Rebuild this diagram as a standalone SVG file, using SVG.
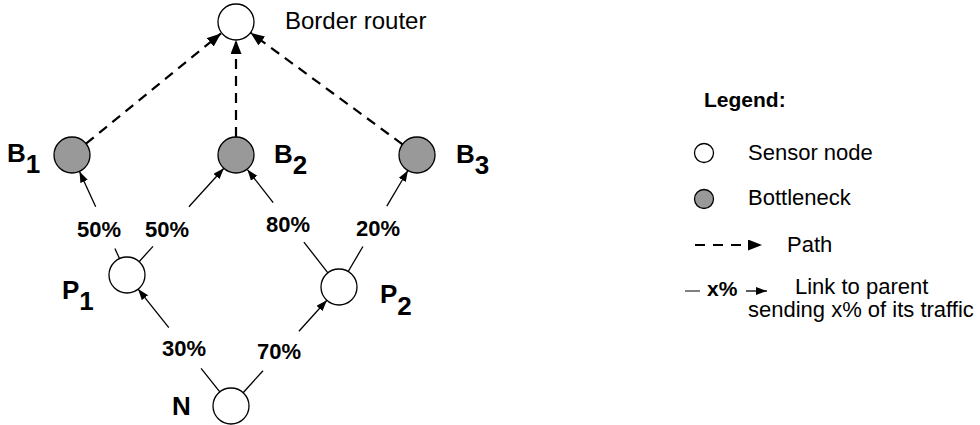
<svg xmlns="http://www.w3.org/2000/svg" width="980" height="425" viewBox="0 0 980 425">
<defs>
<style>
text{font-family:"Liberation Sans",Arial,Helvetica,sans-serif;fill:#000}
.node{stroke:#000;stroke-width:1.3}
.sensor{fill:#fff}
.bott{fill:#999}
.path{stroke:#000;stroke-width:2.2;stroke-dasharray:10 7;fill:none;marker-end:url(#dashHead)}
.link{stroke:#000;stroke-width:1.3;fill:none}
.linkA{stroke:#000;stroke-width:1.3;fill:none;marker-end:url(#solidHead)}
.pct{font-size:22px;font-weight:bold}
.lbl{font-size:26px;font-weight:bold}
.leg{font-size:22px}
</style>
<marker id="dashHead" markerUnits="userSpaceOnUse" markerWidth="15" markerHeight="12" refX="14" refY="5.5" orient="auto" viewBox="0 0 15 12">
<path d="M0,0 L14,5.5 L0,11 z" fill="#000"/>
</marker>
<marker id="solidHead" markerUnits="userSpaceOnUse" markerWidth="12" markerHeight="9" refX="11" refY="4" orient="auto" viewBox="0 0 12 9">
<path d="M0,0 L11,4 L0,8 z" fill="#000"/>
</marker>
</defs>
<rect width="980" height="425" fill="#fff"/>
<g id="connectors">
<line class="path" x1="86" y1="143.6" x2="221" y2="33.4"/>
<line class="path" x1="236" y1="137" x2="236" y2="40"/>
<line class="path" x1="402.5" y1="144.3" x2="250.5" y2="32.7"/>
<line class="link" x1="119.5" y1="258.6" x2="114.9" y2="248.6"/>
<line class="linkA" x1="95.7" y1="206.8" x2="79.5" y2="171.4"/>
<line class="link" x1="139.1" y1="261.7" x2="153" y2="246.4"/>
<line class="linkA" x1="188.9" y1="206.8" x2="223.9" y2="168.3"/>
<line class="link" x1="327.9" y1="272.8" x2="303.9" y2="242.1"/>
<line class="linkA" x1="273.2" y1="202.7" x2="247.4" y2="169.6"/>
<line class="link" x1="348.2" y1="271.5" x2="362.9" y2="246.5"/>
<line class="linkA" x1="386.8" y1="206.1" x2="407.9" y2="170.5"/>
<line class="link" x1="219.8" y1="391.9" x2="201.1" y2="368.4"/>
<line class="linkA" x1="168.8" y1="327.7" x2="138.1" y2="289.1"/>
<line class="link" x1="243.1" y1="392.7" x2="263" y2="370.7"/>
<line class="linkA" x1="298.9" y1="331.2" x2="326.9" y2="300.3"/>
<text class="pct" x="77" y="237">50%</text>
<text class="pct" x="145" y="237">50%</text>
<text class="pct" x="266" y="232">80%</text>
<text class="pct" x="356" y="236">20%</text>
<text class="pct" x="162" y="356">30%</text>
<text class="pct" x="257" y="359">70%</text>
</g>
<g id="border-router">
<circle class="node sensor" cx="236" cy="22" r="18"/>
<text x="285" y="29" style="font-size:24px">Border router</text>
</g>
<g id="B1">
<circle class="node bott" cx="72" cy="155" r="18"/>
<text class="lbl" x="7" y="162">B<tspan dy="11">1</tspan></text>
</g>
<g id="B2">
<circle class="node bott" cx="236" cy="155" r="18"/>
<text class="lbl" x="274" y="163">B<tspan dy="11">2</tspan></text>
</g>
<g id="B3">
<circle class="node bott" cx="417" cy="155" r="18"/>
<text class="lbl" x="456" y="163">B<tspan dy="11">3</tspan></text>
</g>
<g id="P1">
<circle class="node sensor" cx="127" cy="275" r="18"/>
<text class="lbl" x="62" y="299">P<tspan dy="11">1</tspan></text>
</g>
<g id="P2">
<circle class="node sensor" cx="339" cy="287" r="18"/>
<text class="lbl" x="380" y="303">P<tspan dy="12">2</tspan></text>
</g>
<g id="N">
<circle class="node sensor" cx="231" cy="406" r="18"/>
<text class="lbl" x="172" y="415">N</text>
</g>
<g id="legend">
<text x="704" y="107" style="font-size:21px;font-weight:bold">Legend:</text>
<circle class="node sensor" cx="704" cy="153" r="9.5"/>
<text class="leg" x="748" y="160">Sensor node</text>
<circle class="node bott" cx="704" cy="199" r="9.5"/>
<text class="leg" x="748" y="205">Bottleneck</text>
<line x1="695" y1="245" x2="762" y2="245" style="stroke:#000;stroke-width:2.2;stroke-dasharray:10 8;marker-end:url(#dashHead)"/>
<text class="leg" x="787" y="252">Path</text>
<line x1="685" y1="291" x2="700" y2="291" style="stroke:#000;stroke-width:1"/>
<text x="707" y="296" style="font-size:21px;font-weight:bold">x%</text>
<line class="linkA" x1="746" y1="291" x2="767" y2="291"/>
<text class="leg" x="795" y="294">Link to parent</text>
<text class="leg" x="748" y="317">sending x% of its traffic</text>
</g>
</svg>
